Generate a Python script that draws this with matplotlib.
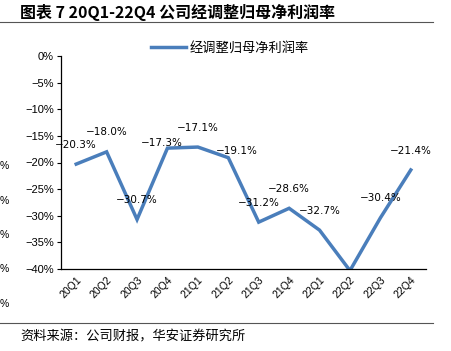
import matplotlib
matplotlib.use("Agg")
import matplotlib.pyplot as plt
from matplotlib.lines import Line2D
from matplotlib.ticker import FuncFormatter

plt.rcParams['font.family'] = ['Liberation Sans', 'Noto Sans CJK SC', 'DejaVu Sans']

# 数据
quarters = ["20Q1", "20Q2", "20Q3", "20Q4", "21Q1", "21Q2",
            "21Q3", "21Q4", "22Q1", "22Q2", "22Q3", "22Q4"]
margin = [-20.3, -18.0, -30.7, -17.3, -17.1, -19.1,
          -31.2, -28.6, -32.7, -40.3, -30.4, -21.4]
series_name = "经调整归母净利润率"
title = "图表 7 20Q1-22Q4 公司经调整归母净利润率"
source = "资料来源：公司财报，华安证券研究所"

blue = "#4a7ebb"
cjk = ['Noto Sans CJK SC', 'DejaVu Sans']

# 个别标签的偏移（单位：点），避免重叠
label_shift = {3: (-4, 4), 5: (6, 5)}

fig = plt.figure(figsize=(4.51, 3.51), dpi=100)
W, H = 451, 351
ax = fig.add_axes([61 / W, 1 - 269 / H, 365 / W, 213 / H])

x = list(range(len(quarters)))
ax.plot(x, margin, color=blue, lw=2.5, solid_joinstyle='miter', clip_on=True)

ax.set_ylim(-40, 0)
ax.set_xlim(-0.5, len(quarters) - 0.5)
ax.set_yticks(range(-40, 1, 5))
ax.yaxis.set_major_formatter(FuncFormatter(lambda v, p: f"{v:.0f}%".replace("-", "\u2212")))
ax.set_xticks(x)
ax.set_xticklabels(quarters, rotation=45, ha='right', rotation_mode='anchor')
ax.tick_params(axis='y', labelsize=8, length=3, width=0.8, pad=2)
ax.tick_params(axis='x', labelsize=7.5, length=0, pad=4)
for s in ("top", "right"):
    ax.spines[s].set_visible(False)
for s in ("left", "bottom"):
    ax.spines[s].set_linewidth(0.9)

# 数据标签（超出坐标范围的点不显示）
for i, v in enumerate(margin):
    if v < -40:
        continue
    dx, dy = label_shift.get(i, (0, 14))
    ax.annotate(f"{v:.1f}%".replace("-", "\u2212"), (i, v), xytext=(dx, dy),
                textcoords='offset points', ha='center', va='center',
                fontsize=7.5, family=['DejaVu Sans'])

# 图例
handle = Line2D([], [], color=blue, lw=2.5)
fig.legend([handle], [series_name], loc='center', bbox_to_anchor=(230 / W, 1 - 48 / H),
           frameon=False, prop={'family': cjk, 'size': 9.5}, handlelength=2.6,
           handletextpad=0.3)

# 左侧被截断的刻度标签
for yy in (166, 201, 235, 269, 304):
    fig.text(0.0, 1 - yy / H, "%", fontsize=7.5, va='center', ha='left')

# 标题、分隔线、来源
fig.text(20 / W, 1 - 12 / H, title, fontsize=11.5, fontweight='bold', va='center',
         family=cjk)
fig.add_artist(Line2D([0, 433 / W], [1 - 22 / H, 1 - 22 / H], color='#555555', lw=0.8))
fig.add_artist(Line2D([0, 433 / W], [1 - 323 / H, 1 - 323 / H], color='#555555', lw=0.8))
fig.text(20 / W, 1 - 337 / H, source, fontsize=9.5, va='center', family=cjk)

fig.savefig("out.png", dpi=100)
